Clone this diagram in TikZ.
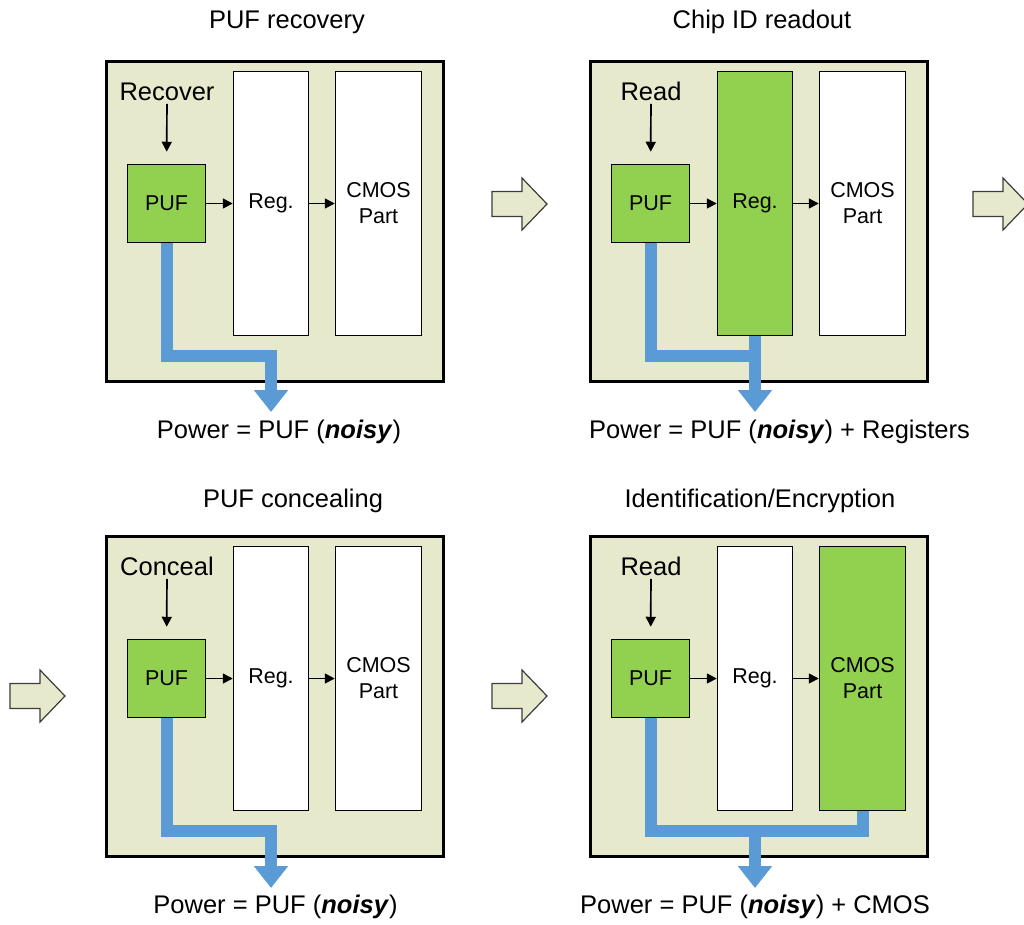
\documentclass[tikz,border=0pt]{standalone}
\usepackage{fontspec}
\setmainfont{Liberation Sans}
\usepackage{tikz}
\usetikzlibrary{arrows.meta,positioning,calc}
\definecolor{chipbg}{RGB}{230, 233, 204}
\definecolor{pufgreen}{RGB}{146, 208, 80}
\definecolor{powerblue}{RGB}{91, 155, 213}
\definecolor{arrowgray}{RGB}{60, 60, 60}

\begin{document}
\begin{tikzpicture}[x=1pt, y=-1pt,
    every node/.style={font=\fontsize{25.5}{30}\selectfont},
    chip/.style={draw=black, line width=3pt, fill=chipbg, minimum width=337pt, minimum height=320pt, inner sep=0pt},
    block/.style={draw=black, line width=1.5pt, fill=white, inner sep=0pt, align=center, font=\fontsize{21.5}{26}\selectfont},
    puf/.style={block, fill=pufgreen, minimum width=78pt, minimum height=78pt},
    regblock/.style={block, minimum width=75pt, minimum height=264pt},
    cmosblock/.style={block, minimum width=86pt, minimum height=264pt},
    flow/.style={-{Triangle[length=10pt,width=10pt]}, line width=1.7pt},
    power/.style={draw=powerblue, line width=12pt, line join=miter},
    powerout/.style={power, -{Triangle[length=22pt,width=33pt]}},
    nextstep/.style={draw=arrowgray, line width=1.2pt, fill=chipbg, line join=miter}]
    \useasboundingbox (0,0) rectangle (1024,924);

    % Step arrows between panels
    \foreach \ax/\ay in {492/204, 973/204, 10/696, 492/696} {
        \draw[nextstep] (\ax,\ay) ++(0,-12.5) -- ++(30,0) -- ++(0,-13.5) -- ++(25,26) -- ++(-25,26) -- ++(0,-13.5) -- ++(-30,0) -- cycle;
    }

    % PUF recovery
    \node[chip] (p1chip) at (275,221) {};
    \node[anchor=base] (p1title) at (287,28) {PUF recovery};
    \node[anchor=base] (p1cmd) at (167,100) {Recover};
    \node[puf] (p1puf) at (166.5,203.5) {PUF};
    \node[regblock] (p1reg) at (271,203.5) {Reg.};
    \node[cmosblock] (p1cmos) at (378.5,203.5) {CMOS\\Part};
    \draw[flow, shorten >=12pt] (p1cmd) -- (p1puf);
    \draw[flow] (p1puf) -- (p1reg);
    \draw[flow] (p1reg) -- (p1cmos);
    \coordinate (p1bend) at (271,355.5);
    \coordinate (p1out) at (271,412);
    \draw[powerout] (p1puf.south) |- (p1bend) -- (p1out);
    \node[anchor=base] (p1power) at (279,438) {Power = PUF (\textbf{\textit{noisy}})};

    % Chip ID readout
    \node[chip] (p2chip) at (759,221) {};
    \node[anchor=base] (p2title) at (762,28) {Chip ID readout};
    \node[anchor=base] (p2cmd) at (651,100) {Read};
    \node[puf] (p2puf) at (650.5,203.5) {PUF};
    \node[regblock, fill=pufgreen] (p2reg) at (755,203.5) {Reg.};
    \node[cmosblock] (p2cmos) at (862.5,203.5) {CMOS\\Part};
    \draw[flow, shorten >=12pt] (p2cmd) -- (p2puf);
    \draw[flow] (p2puf) -- (p2reg);
    \draw[flow] (p2reg) -- (p2cmos);
    \coordinate (p2join) at (755,355.5);
    \coordinate (p2out) at (755,412);
    \draw[power] (p2puf.south) |- (p2join);
    \draw[powerout] (p2reg.south) -- (p2out);
    \node[anchor=base] (p2power) at (779.5,438) {Power = PUF (\textbf{\textit{noisy}}) + Registers};

    % PUF concealing
    \node[chip] (p3chip) at (275,696.5) {};
    \node[anchor=base] (p3title) at (293,507) {PUF concealing};
    \node[anchor=base] (p3cmd) at (167,575) {Conceal};
    \node[puf] (p3puf) at (166.5,678.5) {PUF};
    \node[regblock] (p3reg) at (271,678.5) {Reg.};
    \node[cmosblock] (p3cmos) at (378.5,678.5) {CMOS\\Part};
    \draw[flow, shorten >=12pt] (p3cmd) -- (p3puf);
    \draw[flow] (p3puf) -- (p3reg);
    \draw[flow] (p3reg) -- (p3cmos);
    \coordinate (p3bend) at (271,831);
    \coordinate (p3out) at (271,888);
    \draw[powerout] (p3puf.south) |- (p3bend) -- (p3out);
    \node[anchor=base] (p3power) at (275.5,913) {Power = PUF (\textbf{\textit{noisy}})};

    % Identification/Encryption
    \node[chip] (p4chip) at (759,696.5) {};
    \node[anchor=base] (p4title) at (760,507) {Identification/Encryption};
    \node[anchor=base] (p4cmd) at (651,575) {Read};
    \node[puf] (p4puf) at (650.5,678.5) {PUF};
    \node[regblock] (p4reg) at (755,678.5) {Reg.};
    \node[cmosblock, fill=pufgreen] (p4cmos) at (862.5,678.5) {CMOS\\Part};
    \draw[flow, shorten >=12pt] (p4cmd) -- (p4puf);
    \draw[flow] (p4puf) -- (p4reg);
    \draw[flow] (p4reg) -- (p4cmos);
    \coordinate (p4corner) at (862.5,831);
    \coordinate (p4tap) at (755,831);
    \coordinate (p4out) at (755,888);
    \draw[power] (p4puf.south) |- (p4corner) -- (p4cmos.south);
    \draw[powerout] (p4tap) -- (p4out);
    \node[anchor=base] (p4power) at (755,913) {Power = PUF (\textbf{\textit{noisy}}) + CMOS};
\end{tikzpicture}
\end{document}
